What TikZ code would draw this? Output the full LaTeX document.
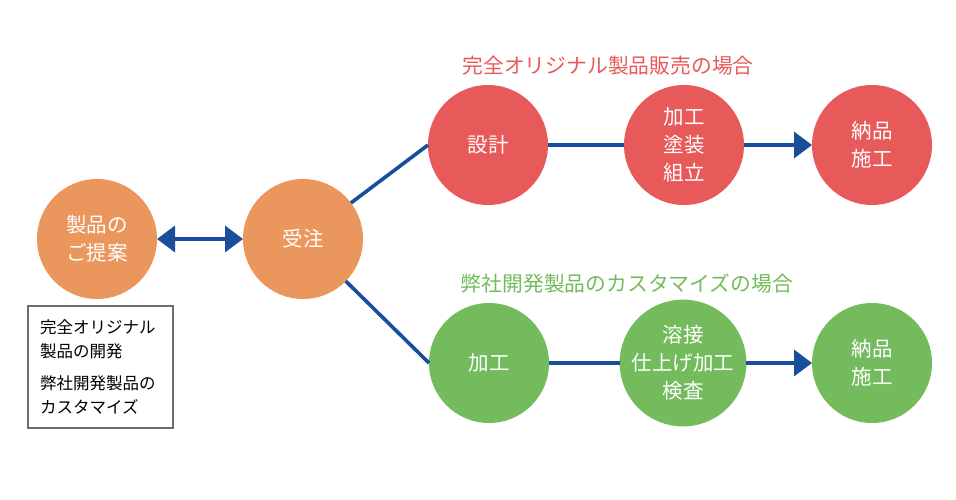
\documentclass[tikz,border=0pt]{standalone}
\usepackage{fontspec}
\setmainfont{Noto Sans CJK JP}
\usetikzlibrary{arrows.meta}
\definecolor{orangec}{RGB}{235,150,92}
\definecolor{redc}{RGB}{232,90,90}
\definecolor{greenc}{RGB}{115,187,92}
\definecolor{bluec}{RGB}{24,78,156}
\definecolor{boxgray}{RGB}{110,110,110}
\begin{document}
\begin{tikzpicture}[x=1pt,y=-1pt,
  stage/.style={circle,minimum size=120pt,inner sep=0pt,outer sep=0pt,text=white,align=center,font=\fontsize{20.5}{28}\selectfont},
  orangestage/.style={stage,fill=orangec},
  redstage/.style={stage,fill=redc},
  greenstage/.style={stage,fill=greenc},
  conn/.style={draw=bluec,line width=3.6pt},
  tip/.style={-{Triangle[length=18pt,width=26pt]}},
  title/.style={font=\fontsize{20.8}{24}\selectfont}]
\useasboundingbox (0,0) rectangle (956,499);
\node[orangestage] (p) at (97,239) {製品の\\ご提案};
\node[orangestage] (j) at (303,239) {受注};
\node[redstage] (s) at (488,145) {設計};
\node[redstage] (k1) at (684,145) {加工\\塗装\\組立};
\node[redstage] (n1) at (872,145) {納品\\施工};
\node[greenstage] (k2) at (489,363) {加工};
\node[greenstage] (w) at (683,363) {溶接\\仕上げ加工\\検査};
\node[greenstage] (n2) at (872,363) {納品\\施工};
\node[title,text=redc] (t1) at (608,66) {完全オリジナル製品販売の場合};
\node[title,text=greenc] (t2) at (627,284) {弊社開発製品のカスタマイズの場合};
\node[draw=boxgray,line width=1.3pt,minimum width=145pt,minimum height=122pt,inner xsep=12pt,text width=121pt,align=left,font=\fontsize{16.5}{23.5}\selectfont] (b) at (100.5,367) {完全オリジナル\\製品の開発\\[9pt]弊社開発製品の\\カスタマイズ};
\draw[conn,{Triangle[length=18pt,width=26pt]}-{Triangle[length=18pt,width=26pt]}] (p.east) -- (j.west);
\draw[conn] (j) -- (s.west);
\draw[conn] (j) -- (k2.west);
\draw[conn] (s.east) -- (k1.west);
\draw[conn,tip] (k1.east) -- (n1.west);
\draw[conn] (k2.east) -- (w.west);
\draw[conn,tip] (w.east) -- (n2.west);
\end{tikzpicture}
\end{document}
